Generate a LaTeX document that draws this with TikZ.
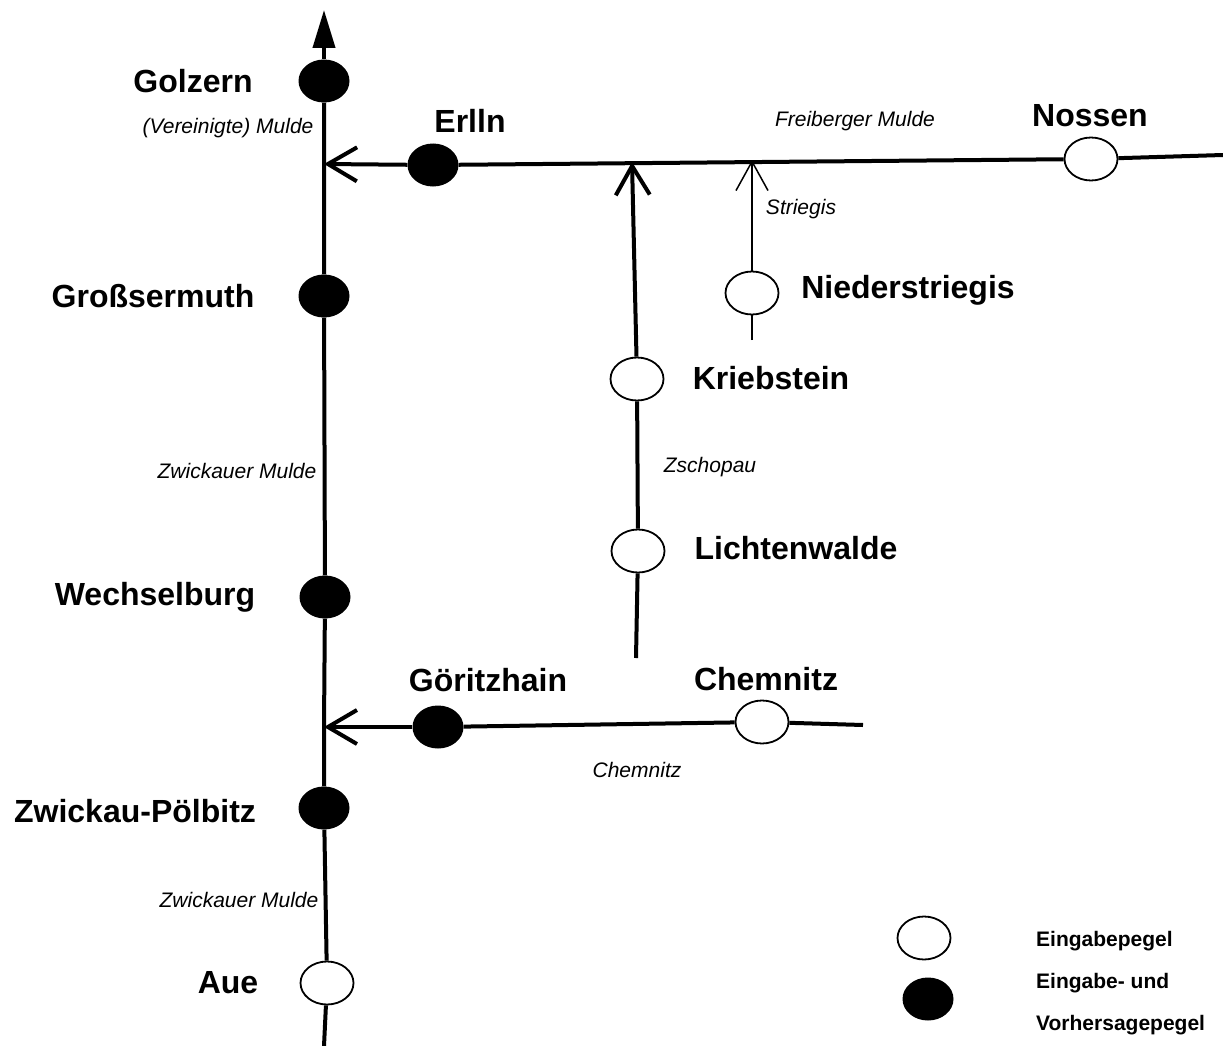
\documentclass[tikz,border=0pt]{standalone}
\usepackage{fontspec}
\setmainfont{Liberation Sans}
\usetikzlibrary{shapes.geometric,arrows.meta}
\begin{document}
\begin{tikzpicture}[x=1pt,y=-1pt,
  river/.style={line width=4pt},
  brook/.style={line width=1.5pt},
  inpegel/.style={ellipse,draw,line width=1.8pt,fill=white,minimum width=53pt,minimum height=43pt,inner sep=0pt},
  fcpegel/.style={ellipse,fill=black,minimum width=51pt,minimum height=43pt,inner sep=0pt},
  station/.style={font=\bfseries\fontsize{32}{32}\selectfont,inner sep=0pt},
  rivername/.style={font=\itshape\fontsize{21}{21}\selectfont,inner sep=0pt},
  legendtext/.style={font=\bfseries\fontsize{21}{21}\selectfont,inner sep=0pt,anchor=west},
  junction/.style={-{Straight Barb[length=29pt,width=34pt]}},
  thinjunction/.style={-{Straight Barb[length=29pt,width=32pt]}},
  outflow/.style={-{Triangle[length=38pt,width=22pt]}}
]
\useasboundingbox (0,0) rectangle (1223,1046);

% Mulde main course (Zwickauer / Vereinigte Mulde)
\coordinate (top) at (324,10);
\node[fcpegel] (golzern) at (324,81) {};
\coordinate (jE) at (324,164);
\node[fcpegel] (gross) at (324,296) {};
\node[fcpegel] (wechsel) at (325,597) {};
\coordinate (jC) at (324,727);
\node[fcpegel] (zp) at (324,808) {};
\node[inpegel] (aue) at (327,983) {};
\coordinate (bottom) at (324,1046);

% Freiberger Mulde
\coordinate (fEnd) at (1223,155);
\node[inpegel] (nossen) at (1091,159) {};
\coordinate (jS) at (752,160);
\coordinate (jZ) at (632,162);
\node[fcpegel] (erlln) at (433,165) {};

% Striegis
\node[inpegel] (nieder) at (752,293) {};
\coordinate (sEnd) at (752,340);

% Zschopau
\node[inpegel] (krieb) at (637,379) {};
\node[inpegel] (licht) at (638,551) {};
\coordinate (zEnd) at (636,658);

% Chemnitz
\coordinate (cEnd) at (863,725);
\node[inpegel] (chemnitz) at (762,722) {};
\node[fcpegel] (goeritz) at (438,727) {};

% river courses
\draw[river] (bottom) -- (aue) -- (zp) -- (jC) -- (wechsel) -- (gross) -- (jE) -- (golzern);
\draw[river,outflow] (golzern) -- (top);
\draw[river] (fEnd) -- (nossen) -- (erlln);
\draw[river,junction] (erlln) -- (jE);
\draw[river] (zEnd) -- (licht) -- (krieb);
\draw[river,junction] (krieb) -- (jZ);
\draw[brook] (sEnd) -- (nieder);
\draw[brook,thinjunction] (nieder) -- (jS);
\draw[river] (cEnd) -- (chemnitz) -- (goeritz);
\draw[river,junction] (goeritz) -- (jC);

% gauge names
\node[station] (tGolzern) at (193,81) {Golzern};
\node[station] (tErlln) at (470,121) {Erlln};
\node[station] (tNossen) at (1090,116) {Nossen};
\node[station] (tNieder) at (908,290) {Niederstriegis};
\node[station] (tGross) at (153,296) {Großsermuth};
\node[station] (tKrieb) at (771,378) {Kriebstein};
\node[station] (tLicht) at (796,548) {Lichtenwalde};
\node[station] (tWechsel) at (155,597) {Wechselburg};
\node[station] (tGoeritz) at (488,680) {Göritzhain};
\node[station] (tChemnitz) at (766,679) {Chemnitz};
\node[station] (tZp) at (135,811) {Zwickau-Pölbitz};
\node[station] (tAue) at (228,983) {Aue};

% river names
\node[rivername] (rVer) at (228,128) {(Vereinigte) Mulde};
\node[rivername] (rFrei) at (855,121) {Freiberger Mulde};
\node[rivername] (rStr) at (801,209) {Striegis};
\node[rivername] (rZw1) at (237,471) {Zwickauer Mulde};
\node[rivername] (rZsch) at (710,467) {Zschopau};
\node[rivername] (rChem) at (637,770) {Chemnitz};
\node[rivername] (rZw2) at (239,900) {Zwickauer Mulde};

% legend
\node[inpegel] (legIn) at (924,938) {};
\node[fcpegel] (legFc) at (928,999) {};
\node[legendtext] (legInText) at (1036,941) {Eingabepegel};
\node[legendtext] (legFcText1) at (1036,983) {Eingabe- und};
\node[legendtext] (legFcText2) at (1036,1025) {Vorhersagepegel};
\end{tikzpicture}
\end{document}
